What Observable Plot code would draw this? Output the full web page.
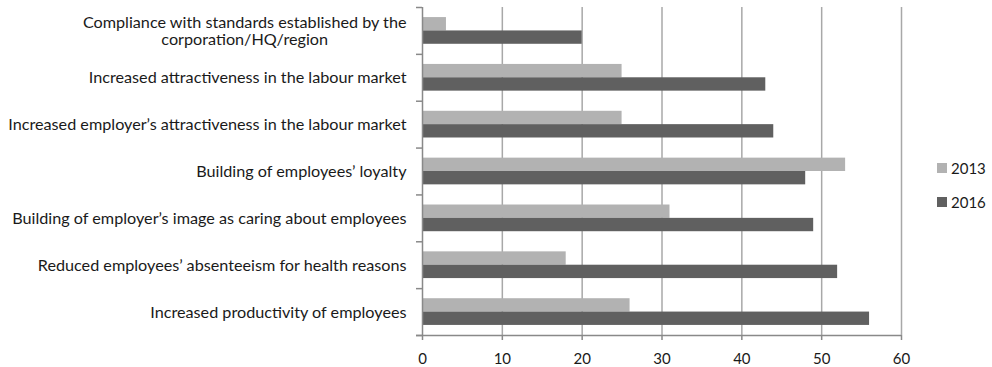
<!DOCTYPE html>
<html>
<head>
<meta charset="utf-8">
<script src="https://cdn.jsdelivr.net/npm/d3@7"></script>
<script src="https://cdn.jsdelivr.net/npm/@observablehq/plot@0.6"></script>
<style>
  html, body { margin: 0; padding: 0; background: #fff; }
  #wrap { position: relative; width: 992px; height: 367px; font-family: Lato, sans-serif; }
  #legend { position: absolute; left: 937px; top: 151px; font-size: 15px; color: #1a1a1a; }
  #legend .item { display: flex; align-items: center; height: 34px; }
  #legend .sw { width: 10px; height: 10px; margin-right: 4px; }
</style>
</head>
<body>
<div id="wrap"><div id="legend"></div></div>
<script>
// ---- data ----
const categories = [
  "Compliance with standards established by the\ncorporation/HQ/region",
  "Increased attractiveness in the labour market",
  "Increased employer\u2019s attractiveness in the labour market",
  "Building of employees\u2019 loyalty",
  "Building of employer\u2019s image as caring about employees",
  "Reduced employees\u2019 absenteeism for health reasons",
  "Increased productivity of employees"
];
const years = ["2013", "2016"];
const values2013 = [3, 25, 25, 53, 31, 18, 26];
const values2016 = [20, 43, 44, 48, 49, 52, 56];
const xTicks = [0, 10, 20, 30, 40, 50, 60];
const colors = ["#b2b2b2", "#606060"];

// ---- layout helpers (category slots on a numeric y scale) ----
const series = [values2013, values2016];
const barShare = 0.285;              // thickness of one bar as share of a category slot
const catIndex = categories.map((c, i) => i);
const bounds = [...catIndex.map(i => i - 0.5), categories.length - 0.5];
const rows = [];
catIndex.forEach(i => years.forEach((y, j) => rows.push({
  category: categories[i], idx: i, year: y, value: series[j][i], j
})));

const axisColor = "#898989";
const gridColor = "#a8a8a8";

const chart = Plot.plot({
  width: 992,
  height: 367,
  marginLeft: 422,
  marginRight: 91,
  marginTop: 7,
  marginBottom: 32,
  style: {fontFamily: "Lato, sans-serif", fontSize: "15px", color: "#1a1a1a", background: "#fff"},
  x: {domain: [0, 60], label: null},
  y: {domain: [categories.length - 0.5, -0.5], label: null},
  color: {domain: years, range: colors},
  marks: [
    Plot.gridX({ticks: xTicks.slice(1), stroke: gridColor, strokeOpacity: 1, strokeWidth: 1.5}),
    Plot.rect(rows, {
      x1: d => 0,
      x2: "value",
      y1: d => d.idx + (d.j === 0 ? -barShare : 0),
      y2: d => d.idx + (d.j === 0 ? 0 : barShare),
      fill: "year"
    }),
    Plot.ruleX([0], {stroke: axisColor, strokeWidth: 1.5}),
    Plot.ruleY([bounds[bounds.length - 1]], {stroke: axisColor, strokeWidth: 1.5, insetLeft: -6}),
    Plot.axisY({ticks: bounds, tickSize: 6, tickFormat: () => "", stroke: axisColor, strokeWidth: 1.5, label: null}),
    Plot.axisY({ticks: catIndex, tickFormat: i => categories[i], tickSize: 0, tickPadding: 16,
      fontSize: 16.2, lineHeight: 1.08, fill: "#1a1a1a", label: null}),
    Plot.axisX({ticks: xTicks, tickSize: 5, tickPadding: 13, stroke: axisColor, strokeWidth: 1.5,
      fontSize: 15, fill: "#1a1a1a", label: null})
  ]
});
document.getElementById("wrap").prepend(chart);

// center the lines of a wrapped category label within its block (as in the source)
d3.select(chart).selectAll("text").each(function() {
  const spans = this.querySelectorAll("tspan");
  if (spans.length > 1) {
    let w = 0;
    spans.forEach(s => { w = Math.max(w, s.getComputedTextLength()); });
    this.setAttribute("text-anchor", "middle");
    spans.forEach(s => s.setAttribute("x", -w / 2));
  }
});

// legend
const legend = d3.select("#legend");
years.forEach((y, i) => {
  const it = legend.append("div").attr("class", "item");
  it.append("div").attr("class", "sw").style("background", colors[i]);
  it.append("span").text(y);
});
</script>
</body>
</html>
